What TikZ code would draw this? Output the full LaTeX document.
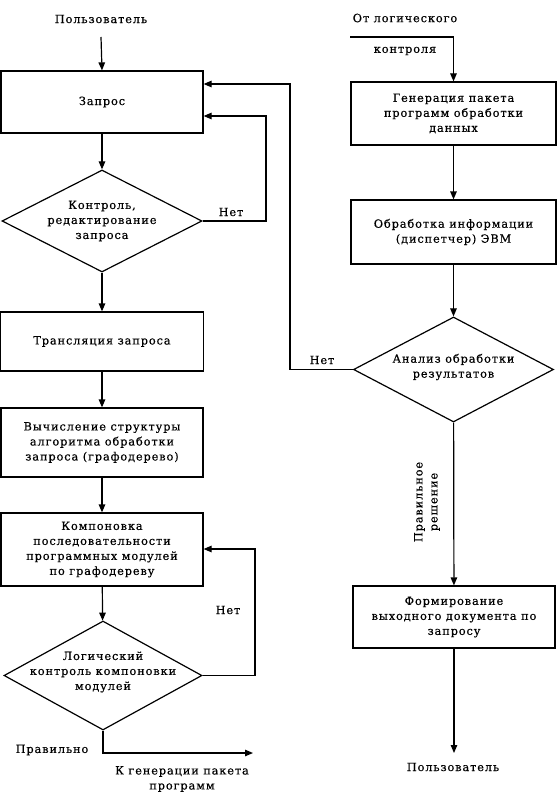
\documentclass[tikz,border=0pt]{standalone}
\usepackage{fontspec}
\setmainfont{DejaVu Serif}[LetterSpace=8,FakeBold=0.5]
\usetikzlibrary{shapes.geometric,arrows.meta,calc}
\begin{document}
\begin{tikzpicture}[x=1bp,y=-1bp,
  every node/.style={font=\fontsize{11.3bp}{15bp}\selectfont},
  box/.style={draw, rectangle, line width=1.2bp, inner sep=0pt, align=center},
  dia/.style={draw, diamond, line width=1.2bp, inner sep=0pt},
  arr/.style={-{Triangle[length=8bp,width=6.5bp]}, line width=1.2bp},
  lbl/.style={inner sep=0pt, align=center}]
\useasboundingbox (0,0) rectangle (557,797);
% left column
\node[lbl] (user1) at (101,19) {Пользователь};
\coordinate (u1) at (101,37);
\node[box, minimum width=202bp, minimum height=62bp] (zapros) at (102,102) {Запрос};
\node[dia, minimum width=200bp, minimum height=102bp] (d1) at (102,221) {};
\node[lbl] (d1t) at (102,221) {Контроль,\\редактирование\\запроса};
\node[box, minimum width=203bp, minimum height=59bp] (tr) at (102,341.5) {Трансляция запроса};
\node[box, minimum width=202bp, minimum height=69bp] (vych) at (102,442.5) {Вычисление структуры\\алгоритма обработки\\запроса (графодерево)};
\node[box, minimum width=202bp, minimum height=73bp] (komp) at (102,549.5) {Компоновка\\последовательности\\программных модулей\\по графодереву};
\node[dia, minimum width=198bp, minimum height=109bp] (d2) at (103,675.5) {};
\node[lbl] (d2t) at (103,672) {Логический\\контроль компоновки\\модулей};
\coordinate (n1) at (266,116);
\coordinate (n2) at (255,549);
\coordinate (out) at (253,753);
\node[lbl] (net1) at (231,212) {Нет};
\node[lbl] (net2) at (228,610) {Нет};
\node[lbl] (prav) at (52,750) {Правильно};
\node[lbl] (kgen) at (182,779) {К генерации пакета\\программ};
% right column
\node[lbl] (otlog) at (405,18) {От логического};
\node[lbl] (kontr) at (405,51) {контроля};
\coordinate (in) at (350,37);
\node[box, minimum width=205bp, minimum height=63bp] (gen) at (453.5,113.5) {Генерация пакета\\программ обработки\\данных};
\node[box, minimum width=205bp, minimum height=64bp] (obr) at (453.5,232) {Обработка информации\\(диспетчер) ЭВМ};
\node[dia, minimum width=200bp, minimum height=105bp] (d3) at (453.5,369.5) {};
\node[lbl] (d3t) at (453.5,367) {Анализ обработки\\результатов};
\node[box, minimum width=202bp, minimum height=62bp] (form) at (454,617) {Формирование\\выходного документа по\\запросу};
\node[lbl, rotate=90] (pravr) at (427,502) {Правильное\\решение};
\coordinate (n3) at (290,84);
\coordinate (u2) at (454,753);
\node[lbl] (user2) at (453,767) {Пользователь};
\node[lbl] (net3) at (322,360) {Нет};
% connectors
\draw[arr] (u1) -- (zapros.north);
\draw[arr] (zapros) -- (d1);
\draw[arr] (d1.east) -| (n1) -- (zapros.east |- n1);
\draw[arr] (d1) -- (tr);
\draw[arr] (tr) -- (vych);
\draw[arr] (vych) -- (komp);
\draw[arr] (komp) -- (d2);
\draw[arr] (d2.east) -| (n2) -- (komp.east |- n2);
\draw[arr] (d2.south) |- (out);
\draw[arr] (in) -| (gen.north);
\draw[arr] (gen) -- (obr);
\draw[arr] (obr) -- (d3);
\draw[arr] (d3.west) -| (n3) -- (zapros.east |- n3);
\draw[arr] (d3) -- (form);
\draw[arr] (form.south) -- (u2);
\end{tikzpicture}
\end{document}
